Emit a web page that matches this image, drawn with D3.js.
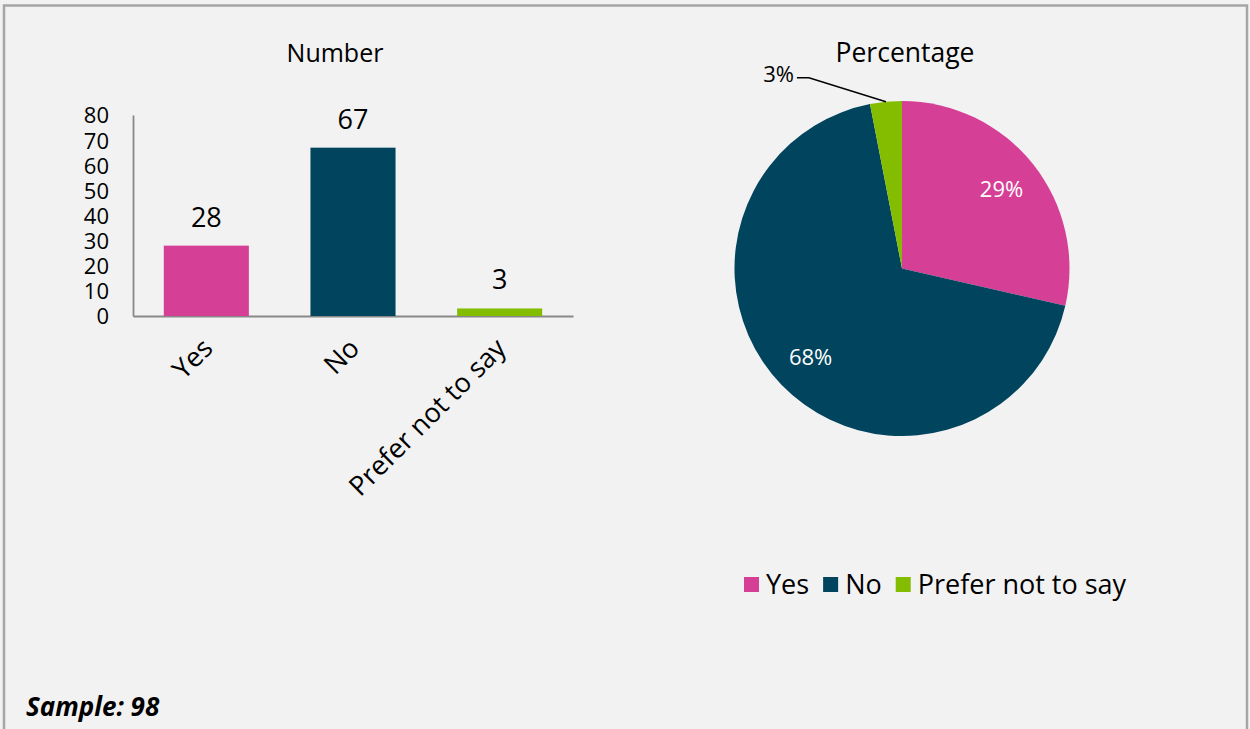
<!DOCTYPE html>
<meta charset="utf-8">
<script src="https://cdn.jsdelivr.net/npm/d3@7"></script>
<style>
body {
  margin: 0;
  background: #f2f2f2;
}
text {
  font-family: "Open Sans", sans-serif;
  fill: #000;
}
</style>
<body>
<script>
// chart values
var categories = ["Yes", "No", "Prefer not to say"];
var counts = [28, 67, 3];
var colors = ["#d63f96", "#00445e", "#84bd00"];
var yTicks = [0, 10, 20, 30, 40, 50, 60, 70, 80];
var sampleSize = 98;

var width = 1250,
    height = 729;

var svg = d3.select("body")
  .append("svg")
    .attr("width", width)
    .attr("height", height);

svg.append("rect")
    .attr("width", width)
    .attr("height", height)
    .attr("fill", "#f2f2f2");

// outer frame (bottom edge is off the picture)
svg.append("rect")
    .attr("x", 4)
    .attr("y", 5.5)
    .attr("width", width - 7)
    .attr("height", height + 20)
    .attr("fill", "none")
    .attr("stroke", "#a6a6a6")
    .attr("stroke-width", 2.5);

// ---------- bar chart ----------
var x = d3.scaleBand()
    .domain(categories)
    .range([133, 573])
    .paddingInner(0.42)
    .paddingOuter(0.21);

var y = d3.scaleLinear()
    .domain([0, 80])
    .range([316, 115]);

svg.append("text")
    .attr("x", (x.range()[0] + x.range()[1]) / 2 - 18)
    .attr("y", 62)
    .attr("text-anchor", "middle")
    .attr("font-size", 25)
    .text("Number");

var yAxis = svg.append("g")
    .attr("transform", "translate(" + x.range()[0] + ",0)")
    .call(d3.axisLeft(y).tickValues(yTicks).tickSize(0).tickPadding(24));

yAxis.select(".domain").attr("stroke", "#888").attr("stroke-width", 1.8);
yAxis.selectAll("text")
    .attr("font-family", "Open Sans")
    .attr("font-size", 22)
    .attr("fill", "#000")
    .attr("dy", "0.36em");

var xAxis = svg.append("g")
    .attr("transform", "translate(0," + y(0) + ")")
    .call(d3.axisBottom(x).tickSize(0).tickSizeOuter(0));

xAxis.select(".domain").attr("stroke", "#888").attr("stroke-width", 1.8);
xAxis.selectAll("text")
    .attr("font-family", "Open Sans")
    .attr("font-size", 27)
    .attr("fill", "#000")
    .attr("text-anchor", "end")
    .attr("y", 0)
    .attr("dy", 0)
    .attr("transform", "translate(8,34)rotate(-45)");

svg.append("g")
  .selectAll("rect")
  .data(counts)
  .enter().append("rect")
    .attr("x", function(d, i) { return x(categories[i]); })
    .attr("y", function(d) { return y(d); })
    .attr("width", x.bandwidth())
    .attr("height", function(d) { return y(0) - y(d); })
    .attr("fill", function(d, i) { return colors[i]; });

svg.append("g")
  .selectAll("text")
  .data(counts)
  .enter().append("text")
    .attr("x", function(d, i) { return x(categories[i]) + x.bandwidth() / 2; })
    .attr("y", function(d) { return y(d) - 19; })
    .attr("text-anchor", "middle")
    .attr("font-size", 27)
    .text(function(d) { return d; });

// ---------- pie chart ----------
var cx = 902, cy = 268.5, radius = 167.5;
var total = d3.sum(counts);
var fmtPct = d3.format(".0%");

svg.append("text")
    .attr("x", cx + 3)
    .attr("y", 62)
    .attr("text-anchor", "middle")
    .attr("font-size", 26.5)
    .text("Percentage");

var pie = d3.pie().sort(null).value(function(d) { return d; });
var arcs = pie(counts);
var arc = d3.arc().innerRadius(0).outerRadius(radius);
var labelArc = d3.arc().innerRadius(radius * 0.76).outerRadius(radius * 0.76);
var edgeArc = d3.arc().innerRadius(radius).outerRadius(radius);

var pieG = svg.append("g")
    .attr("transform", "translate(" + cx + "," + cy + ")");

pieG.selectAll("path")
  .data(arcs)
  .enter().append("path")
    .attr("d", arc)
    .attr("fill", function(d, i) { return colors[i]; });

// inside labels for the big slices
pieG.selectAll("text.inside")
  .data(arcs.filter(function(d) { return d.value / total > 0.1; }))
  .enter().append("text")
    .attr("class", "inside")
    .attr("transform", function(d) { return "translate(" + labelArc.centroid(d) + ")"; })
    .attr("dy", "0.36em")
    .attr("text-anchor", "middle")
    .attr("font-size", 22)
    .style("fill", "#fff")
    .text(function(d) { return fmtPct(d.value / total); });

// outside label with leader line for the small slice
arcs.filter(function(d) { return d.value / total <= 0.1; }).forEach(function(d) {
  var p0 = edgeArc.centroid(d);
  var p1 = [p0[0] - 77, p0[1] - 24];
  var p2 = [p1[0] - 12, p1[1]];
  pieG.append("polyline")
      .attr("points", [p0, p1, p2].map(function(p) { return p.join(","); }).join(" "))
      .attr("fill", "none")
      .attr("stroke", "#000")
      .attr("stroke-width", 1.5);
  pieG.append("text")
      .attr("x", p2[0] - 3)
      .attr("y", p2[1])
      .attr("dy", "0.2em")
      .attr("text-anchor", "end")
      .attr("font-size", 22)
      .text(fmtPct(d.value / total));
});

// legend
var legend = svg.append("g")
    .attr("transform", "translate(744,577)");

var lx = 0;
categories.forEach(function(c, i) {
  legend.append("rect")
      .attr("x", lx)
      .attr("y", 0)
      .attr("width", 15)
      .attr("height", 15)
      .attr("fill", colors[i]);
  var t = legend.append("text")
      .attr("x", lx + 22)
      .attr("y", 17)
      .attr("font-size", 27)
      .text(c);
  lx += 22 + t.node().getComputedTextLength() + 14;
});

svg.append("text")
    .attr("x", 26)
    .attr("y", 716)
    .attr("font-size", 26)
    .attr("font-weight", "bold")
    .attr("font-style", "italic")
    .text("Sample: " + sampleSize);
</script>
</body>
</html>
